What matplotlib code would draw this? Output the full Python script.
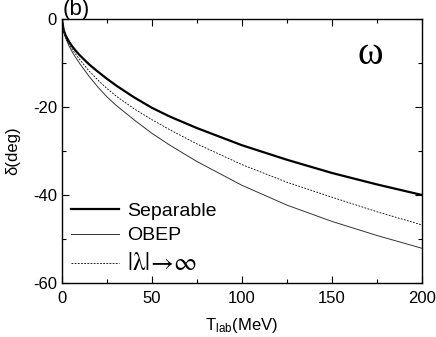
import matplotlib
matplotlib.use("Agg")
import matplotlib.pyplot as plt
from matplotlib.ticker import MultipleLocator

plt.rcParams['font.family'] = ['Liberation Sans', 'DejaVu Sans']
plt.rcParams['axes.unicode_minus'] = False
plt.rcParams['mathtext.fontset'] = 'stix'

T_lab = [0, 1, 2, 4, 6, 8, 10, 15, 20, 25, 30, 40, 50, 60, 75, 100, 125, 150, 175, 200]
separable = [0, -2.6, -3.7, -5.2, -6.4, -7.4, -8.3, -10.3, -12.0, -13.6, -15.1, -17.8,
             -20.2, -22.2, -24.8, -28.7, -32.0, -35.0, -37.6, -40.0]
obep = [0, -3.0, -4.3, -6.2, -7.7, -9.0, -10.2, -13.0, -15.5, -17.7, -19.6, -22.9,
        -26.0, -28.7, -32.4, -37.8, -42.3, -46.0, -49.2, -52.1]
lam_inf = [0, -2.9, -4.1, -5.8, -7.1, -8.2, -9.3, -11.8, -13.9, -15.8, -17.5, -20.4,
           -22.9, -25.2, -28.4, -33.1, -37.1, -40.5, -43.8, -46.8]

fig = plt.figure(figsize=(4.36, 3.37), dpi=100)
ax = fig.add_axes([0.142, 0.160, 0.826, 0.784])

ax.plot(T_lab, separable, color='black', lw=1.6, label='Separable')
ax.plot(T_lab, obep, color='0.2', lw=0.7, label='OBEP')
ax.plot(T_lab, lam_inf, color='black', lw=0.6, dashes=(2.2, 1.6),
        label='$|\\mathrm{\\lambda}|\\!\\rightarrow\\!\\infty$')

ax.set_xlim(0, 200)
ax.set_ylim(-60, 0)
ax.xaxis.set_major_locator(MultipleLocator(50))
ax.xaxis.set_minor_locator(MultipleLocator(25))
ax.yaxis.set_major_locator(MultipleLocator(20))
ax.yaxis.set_minor_locator(MultipleLocator(10))
ax.tick_params(which='both', direction='in', top=True, right=True, labelsize=12, width=0.8)
ax.tick_params(which='major', length=5)
ax.tick_params(which='minor', length=3)
ax.tick_params(axis='x', pad=6)
for s in ax.spines.values():
    s.set_linewidth(1.0)

ax.set_xlabel('T$_{\\mathregular{lab}}$(MeV)', fontsize=12, labelpad=7)
ax.set_ylabel('δ(deg)', fontsize=12, labelpad=9)

ax.text(0.003, 1.035, '(b)', transform=ax.transAxes, fontsize=16, va='center', ha='left')
ax.text(0.855, 0.865, 'ω', transform=ax.transAxes, fontsize=28,
        family=['Liberation Serif', 'DejaVu Serif'], ha='center', va='center')

leg = ax.legend(loc='lower left', frameon=False, fontsize=14, handlelength=2.5,
                handletextpad=0.4, labelspacing=0.35, borderaxespad=0.0, borderpad=0.3,
                bbox_to_anchor=(0.008, 0.008))
leg.get_texts()[2].set_fontsize(18)

fig.savefig('out.png', dpi=100)
